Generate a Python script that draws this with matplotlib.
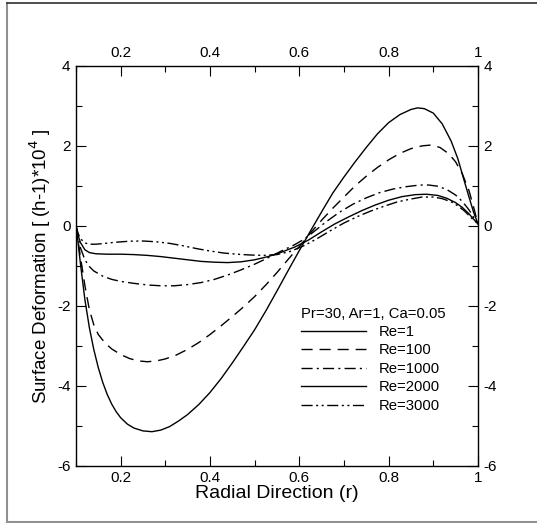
import numpy as np
import matplotlib.pyplot as plt
from matplotlib.lines import Line2D
from matplotlib.ticker import MultipleLocator

plt.rcParams['font.family'] = ['Liberation Sans', 'DejaVu Sans']

# values
r_re1 = [0.100, 0.105, 0.110, 0.115, 0.120, 0.130, 0.140, 0.150, 0.160, 0.170, 0.180, 0.190,
         0.200, 0.215, 0.230, 0.250, 0.270, 0.290, 0.310, 0.330, 0.350, 0.375, 0.400, 0.425,
         0.450, 0.475, 0.500, 0.525, 0.550, 0.575, 0.600, 0.625, 0.650, 0.675, 0.700, 0.725,
         0.750, 0.775, 0.800, 0.825, 0.850, 0.865, 0.880, 0.900, 0.920, 0.940, 0.955, 0.970,
         0.980, 0.990, 1.000]
h_re1 = [0.0, -0.45, -0.95, -1.4, -1.85, -2.55, -3.1, -3.55, -3.92, -4.22, -4.46, -4.65,
         -4.80, -4.96, -5.06, -5.13, -5.15, -5.11, -5.02, -4.88, -4.72, -4.47, -4.17, -3.82,
         -3.43, -3.02, -2.60, -2.13, -1.63, -1.12, -0.62, -0.13, 0.35, 0.82, 1.22, 1.60,
         1.96, 2.30, 2.58, 2.78, 2.91, 2.95, 2.93, 2.82, 2.55, 2.12, 1.68, 1.10,
         0.72, 0.35, 0.05]

r_re100 = [0.100, 0.105, 0.110, 0.120, 0.130, 0.140, 0.150, 0.165, 0.180, 0.200, 0.220, 0.240,
           0.260, 0.280, 0.300, 0.325, 0.350, 0.375, 0.400, 0.425, 0.450, 0.475, 0.500, 0.525,
           0.550, 0.575, 0.600, 0.625, 0.650, 0.675, 0.700, 0.725, 0.750, 0.775, 0.800, 0.825,
           0.850, 0.875, 0.895, 0.915, 0.935, 0.950, 0.965, 0.980, 0.990, 1.000]
h_re100 = [0.0, -0.4, -0.78, -1.5, -2.1, -2.48, -2.72, -2.93, -3.08, -3.22, -3.32, -3.38,
           -3.40, -3.38, -3.33, -3.23, -3.09, -2.92, -2.72, -2.50, -2.27, -2.03, -1.77, -1.48,
           -1.17, -0.84, -0.52, -0.18, 0.14, 0.44, 0.72, 1.00, 1.24, 1.46, 1.65, 1.81,
           1.93, 2.00, 2.02, 1.96, 1.80, 1.60, 1.30, 0.88, 0.48, 0.05]

r_re1000 = [0.100, 0.105, 0.110, 0.120, 0.130, 0.140, 0.160, 0.180, 0.200, 0.230, 0.260, 0.290,
            0.320, 0.350, 0.380, 0.410, 0.440, 0.470, 0.500, 0.530, 0.560, 0.590, 0.610, 0.630,
            0.660, 0.690, 0.720, 0.750, 0.780, 0.810, 0.840, 0.870, 0.890, 0.910, 0.930, 0.950,
            0.965, 0.980, 0.990, 1.000]
h_re1000 = [0.0, -0.3, -0.55, -0.85, -1.02, -1.13, -1.26, -1.34, -1.39, -1.44, -1.48, -1.50,
            -1.50, -1.47, -1.42, -1.34, -1.23, -1.10, -0.96, -0.80, -0.63, -0.47, -0.34, -0.17,
            0.10, 0.34, 0.54, 0.70, 0.83, 0.92, 0.98, 1.02, 1.02, 0.99, 0.91, 0.77,
            0.61, 0.40, 0.22, 0.05]

r_re2000 = [0.100, 0.105, 0.110, 0.120, 0.130, 0.145, 0.170, 0.200, 0.230, 0.260, 0.290, 0.320,
            0.350, 0.380, 0.410, 0.440, 0.470, 0.500, 0.530, 0.560, 0.590, 0.620, 0.650, 0.680,
            0.710, 0.740, 0.770, 0.800, 0.830, 0.860, 0.885, 0.910, 0.930, 0.950, 0.965, 0.980,
            0.990, 1.000]
h_re2000 = [0.0, -0.25, -0.42, -0.6, -0.67, -0.70, -0.71, -0.71, -0.72, -0.74, -0.77, -0.81,
            -0.85, -0.89, -0.91, -0.92, -0.90, -0.85, -0.77, -0.66, -0.53, -0.36, -0.15, 0.05,
            0.22, 0.38, 0.52, 0.64, 0.73, 0.78, 0.79, 0.76, 0.69, 0.58, 0.46, 0.30,
            0.17, 0.05]

r_re3000 = [0.100, 0.105, 0.110, 0.120, 0.130, 0.145, 0.165, 0.190, 0.220, 0.250, 0.280, 0.310,
            0.340, 0.370, 0.400, 0.430, 0.460, 0.490, 0.520, 0.550, 0.580, 0.610, 0.640, 0.670,
            0.700, 0.730, 0.760, 0.790, 0.820, 0.850, 0.875, 0.900, 0.920, 0.940, 0.955, 0.970,
            0.985, 1.000]
h_re3000 = [0.0, -0.2, -0.32, -0.43, -0.46, -0.46, -0.44, -0.41, -0.385, -0.38, -0.40, -0.44,
            -0.50, -0.57, -0.63, -0.68, -0.71, -0.73, -0.74, -0.72, -0.64, -0.50, -0.32, -0.12,
            0.07, 0.23, 0.37, 0.49, 0.60, 0.67, 0.72, 0.72, 0.68, 0.60, 0.50, 0.37,
            0.20, 0.05]

labels = ['Re=1', 'Re=100', 'Re=1000', 'Re=2000', 'Re=3000']
styles = ['-', (0, (8, 5)), (0, (8, 3, 1.5, 3)), '-', (0, (8, 2.5, 1.5, 2.5, 1.5, 2.5))]

fig = plt.figure(figsize=(5.37, 5.23), dpi=100)
ax = fig.add_axes([0.1415, 0.1096, 0.7485, 0.7644])

curves = [(r_re1, h_re1), (r_re100, h_re100), (r_re1000, h_re1000),
          (r_re2000, h_re2000), (r_re3000, h_re3000)]
for (r, h), ls, lab in zip(curves, styles, labels):
    ax.plot(r, h, color='black', lw=1.0, ls=ls, label=lab)

ax.set_xlim(0.1, 1)
ax.set_ylim(-6, 4)
ax.xaxis.set_major_locator(MultipleLocator(0.2))
ax.xaxis.set_minor_locator(MultipleLocator(0.1))
ax.yaxis.set_major_locator(MultipleLocator(2))
ax.yaxis.set_minor_locator(MultipleLocator(1))
ax.xaxis.set_major_formatter(plt.FuncFormatter(lambda v, p: '1' if abs(v - 1) < 1e-6 else '%.1f' % v))
ax.yaxis.set_major_formatter(plt.FuncFormatter(lambda v, p: '%d' % v))
ax.tick_params(which='both', direction='in', top=True, right=True,
               labeltop=True, labelright=True, labelsize=11, width=0.8)
ax.tick_params(which='major', length=7, pad=4)
ax.tick_params(which='minor', length=4.5)
for s in ax.spines.values():
    s.set_linewidth(1.0)

ax.set_xlabel('Radial Direction (r)', fontsize=14, labelpad=0)
ax.set_ylabel('Surface Deformation [ (h-1)*10$^4$ ]', fontsize=13.5, labelpad=3)

leg = ax.legend(title='Pr=30, Ar=1, Ca=0.05', loc='upper left', bbox_to_anchor=(0.56, 0.398),
                frameon=False, fontsize=10.7, title_fontsize=10.7, handlelength=4.4,
                labelspacing=0.3, handletextpad=0.8, borderaxespad=0, borderpad=0)
leg._legend_box.align = 'left'

# outer frame around the picture
fig.add_artist(Line2D([6.7 / 537, 6.7 / 537], [1 - 3.3 / 523, 1 - 522 / 523],
                      transform=fig.transFigure, color='#909090', lw=1.5))
fig.add_artist(Line2D([6.7 / 537, 1], [1 - 3.3 / 523, 1 - 3.3 / 523],
                      transform=fig.transFigure, color='#303030', lw=1.2))
fig.add_artist(Line2D([6.7 / 537, 1], [1 - 522 / 523, 1 - 522 / 523],
                      transform=fig.transFigure, color='#909090', lw=1.5))

fig.savefig('out.png', dpi=100)
